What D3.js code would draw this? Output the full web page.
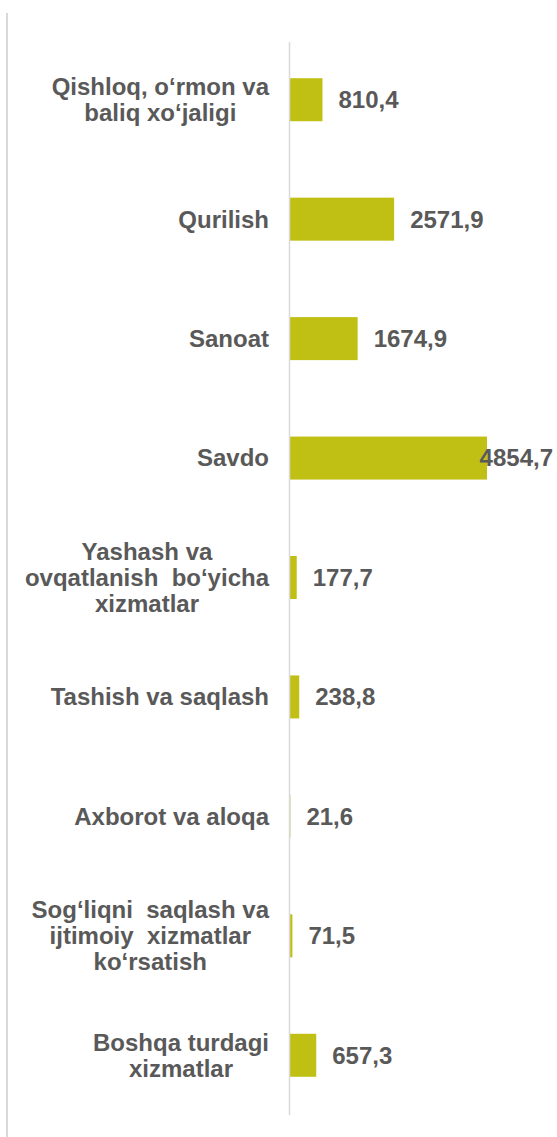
<!DOCTYPE html>
<html>
<head>
<meta charset="utf-8">
<script src="https://cdn.jsdelivr.net/npm/d3@7"></script>
<style>
  html, body { margin: 0; padding: 0; background: #fff; }
  svg { display: block; }
  text { font-family: "Liberation Sans", Arial, sans-serif; font-weight: bold; fill: #595959; white-space: pre; }
</style>
</head>
<body>
<div id="chart"></div>
<script>
// categories (top to bottom), line breaks as in the source chart
const categories = [
  'Qishloq, o‘rmon va\nbaliq xo‘jaligi',
  'Qurilish',
  'Sanoat',
  'Savdo',
  'Yashash va\novqatlanish  bo‘yicha\nxizmatlar',
  'Tashish va saqlash',
  'Axborot va aloqa',
  'Sog‘liqni  saqlash va\nijtimoiy  xizmatlar\nko‘rsatish',
  'Boshqa turdagi\nxizmatlar'
];
const values = [810.4, 2571.9, 1674.9, 4854.7, 177.7, 238.8, 21.6, 71.5, 657.3];
const valueLabels = ['810,4', '2571,9', '1674,9', '4854,7', '177,7', '238,8', '21,6', '71,5', '657,3'];

const width = 557, height = 1137;
const axisX = 289.5;      // category axis position
const labelRight = 269;   // right edge of category label blocks
const lineH = 26;
const fontSize = 24;

const svg = d3.select('#chart').append('svg')
  .attr('width', width)
  .attr('height', height);

// left frame line
svg.append('line')
  .attr('x1', 7).attr('x2', 7)
  .attr('y1', 13).attr('y2', height)
  .attr('stroke', '#d9d9d9').attr('stroke-width', 2);

const y = d3.scaleBand()
  .domain(d3.range(categories.length))
  .range([40, 1115])
  .paddingInner(0.64)
  .paddingOuter(0.32);

const x = d3.scaleLinear()
  .domain([0, d3.max(values)])
  .range([axisX, 487]);

// bars
svg.append('g').selectAll('rect')
  .data(values)
  .join('rect')
  .attr('x', axisX)
  .attr('y', (d, i) => y(i))
  .attr('width', d => x(d) - axisX)
  .attr('height', y.bandwidth())
  .attr('fill', '#c0bf13');

// axis line
svg.append('line')
  .attr('x1', axisX).attr('x2', axisX)
  .attr('y1', 42).attr('y2', 1115)
  .attr('stroke', '#d9d9d9').attr('stroke-width', 1.5);

// category labels: block right-aligned, lines centred inside block
const labG = svg.append('g').attr('font-size', fontSize);
categories.forEach((c, i) => {
  const lines = c.split('\n');
  const cy = y(i) + y.bandwidth() / 2;
  const g = labG.append('g');
  const texts = lines.map((ln, k) => g.append('text')
    .attr('y', cy + (k - (lines.length - 1) / 2) * lineH)
    .attr('dy', '0.35em')
    .attr('text-anchor', 'middle')
    .text(ln));
  const bw = d3.max(texts, t => t.node().getComputedTextLength());
  texts.forEach(t => t.attr('x', labelRight - bw / 2));
});

// value labels
const valG = svg.append('g').attr('font-size', fontSize);
values.forEach((v, i) => {
  const t = valG.append('text')
    .attr('y', y(i) + y.bandwidth() / 2)
    .attr('dy', '0.35em')
    .text(valueLabels[i]);
  const w = t.node().getComputedTextLength();
  t.attr('x', Math.min(x(v) + 16, width - 4 - w));
});
</script>
</body>
</html>
